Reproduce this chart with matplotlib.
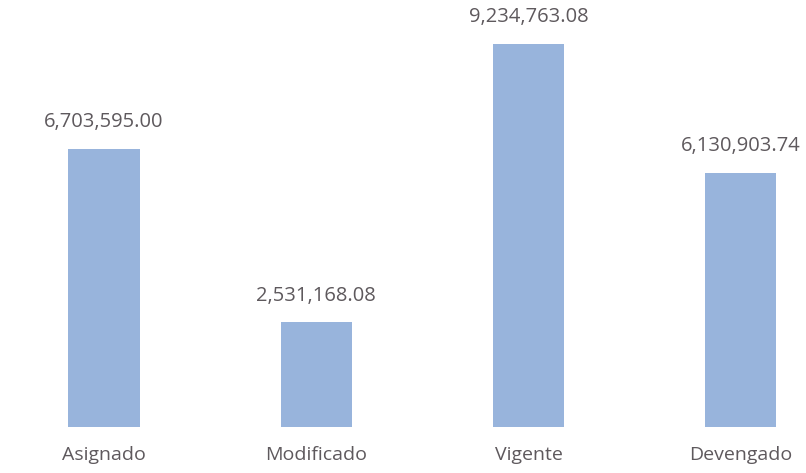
import matplotlib
matplotlib.use("Agg")
import matplotlib.pyplot as plt

categories = ["Asignado", "Modificado", "Vigente", "Devengado"]
values = [6703595.00, 2531168.08, 9234763.08, 6130903.74]

fig = plt.figure(figsize=(8.06, 4.73), dpi=100)
ax = fig.add_axes([0, 0, 1, 1])
x = list(range(len(categories)))
ax.bar(x, values, width=0.335, color="#98b4dc")
ax.set_xlim(-0.49, 3.307)
ax.set_ylim(-1.108e6, 10.29e6)
ax.axis("off")

txt_color = "#5e595d"
for xi, v in zip(x, values):
    ax.annotate(f"{v:,.2f}", (xi, v), xytext=(0, 19), textcoords="offset points",
                ha="center", va="center", fontsize=14.5, color=txt_color,
                family="Open Sans")
for xi, c in zip(x, categories):
    ax.annotate(c, (xi, 0), xytext=(0, -20), textcoords="offset points",
                ha="center", va="center", fontsize=14, color=txt_color,
                family="Open Sans")

fig.savefig("out.png", dpi=100)
